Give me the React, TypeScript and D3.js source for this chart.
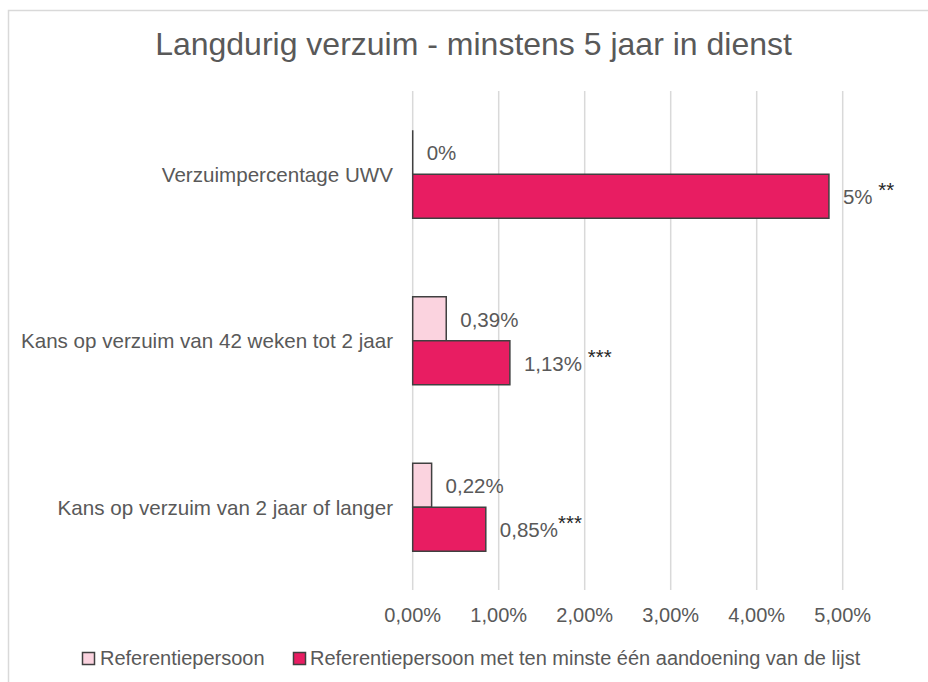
import React from "react";
import * as d3 from "d3";

const categories = [
  "Verzuimpercentage UWV",
  "Kans op verzuim van 42 weken tot 2 jaar",
  "Kans op verzuim van 2 jaar of langer",
];
const seriesNames = [
  "Referentiepersoon",
  "Referentiepersoon met ten minste één aandoening van de lijst",
];
const refValues = [0.0, 0.0039, 0.0022];
const condValues = [0.0484, 0.0113, 0.0085];
const refLabels = ["0%", "0,39%", "0,22%"];
const condLabels = ["5%", "1,13%", "0,85%"];
const condStars = [" **", " ***", "***"];
const xTicks = [0, 0.01, 0.02, 0.03, 0.04, 0.05];
const tickLabels = ["0,00%", "1,00%", "2,00%", "3,00%", "4,00%", "5,00%"];
const title = "Langdurig verzuim - minstens 5 jaar in dienst";

const colors = ["#fbd3df", "#e81d62"];
const FONT = "'Liberation Sans', Arial, sans-serif";
const TEXT = "#595959";

export default function App() {
  const x = d3.scaleLinear().domain([0, 0.05]).range([412.7, 842.7]);
  const y = d3
    .scaleBand<string>()
    .domain(categories)
    .range([91, 590.5])
    .paddingInner(0.4715)
    .paddingOuter(0.4715 / 2);
  const ySub = d3
    .scaleBand<string>()
    .domain(seriesNames)
    .range([0, y.bandwidth()]);

  const series = [
    { name: seriesNames[0], values: refValues, labels: refLabels, stars: categories.map(() => "") },
    { name: seriesNames[1], values: condValues, labels: condLabels, stars: condStars },
  ];

  return (
    <svg
      width={928}
      height={682}
      style={{ position: "absolute", left: 0, top: 0, fontFamily: FONT }}
    >
      <rect x={0} y={0} width={928} height={682} fill="#fff" />
      {/* chart border (top + left visible) */}
      <path d="M8.5,700 V10.5 H940" fill="none" stroke="#d9d9d9" strokeWidth={1.5} />
      <text x={473.5} y={55} textAnchor="middle" fontSize={32} fill={TEXT}>
        {title}
      </text>
      {/* gridlines */}
      {xTicks.map((t, i) => (
        <line key={"g" + i} x1={x(t)} x2={x(t)} y1={91} y2={590} stroke="#d9d9d9" strokeWidth={1.5} />
      ))}
      {/* tick labels */}
      {xTicks.map((t, i) => (
        <text key={"t" + i} x={x(t)} y={621.5} textAnchor="middle" fontSize={20} fill={TEXT}>
          {tickLabels[i]}
        </text>
      ))}
      {/* category labels */}
      {categories.map((c) => (
        <text key={c} x={393} y={y(c)! + y.bandwidth() / 2 + 7.5} textAnchor="end" fontSize={20.6} fill={TEXT}>
          {c}
        </text>
      ))}
      {/* bars */}
      {series.map((s, si) =>
        categories.map((c, ci) => {
          const y0 = y(c)! + ySub(s.name)!;
          const h = ySub.bandwidth();
          const w = x(s.values[ci]) - x(0);
          return (
            <g key={s.name + c}>
              {w > 0 ? (
                <rect x={x(0)} y={y0} width={w} height={h} fill={colors[si]} stroke="#404040" strokeWidth={1.5} />
              ) : (
                <line x1={x(0)} x2={x(0)} y1={y0} y2={y0 + h} stroke="#404040" strokeWidth={1.5} />
              )}
              <text x={x(s.values[ci]) + 14} y={y0 + h / 2 + 8} fontSize={20.5} fill={TEXT}>
                {s.labels[ci]}
                {s.stars[ci] ? (
                  <tspan dy={-7} fill="#262626">
                    {s.stars[ci]}
                  </tspan>
                ) : null}
              </text>
            </g>
          );
        })
      )}
      {/* legend */}
      {[
        { mx: 82.5, tx: 100 },
        { mx: 293.5, tx: 310 },
      ].map((l, i) => (
        <g key={"l" + i}>
          <rect x={l.mx} y={652.5} width={12} height={12} fill={colors[i]} stroke="#404040" strokeWidth={1.5} />
          <text x={l.tx} y={664.5} fontSize={20} fill={TEXT}>
            {seriesNames[i]}
          </text>
        </g>
      ))}
    </svg>
  );
}
